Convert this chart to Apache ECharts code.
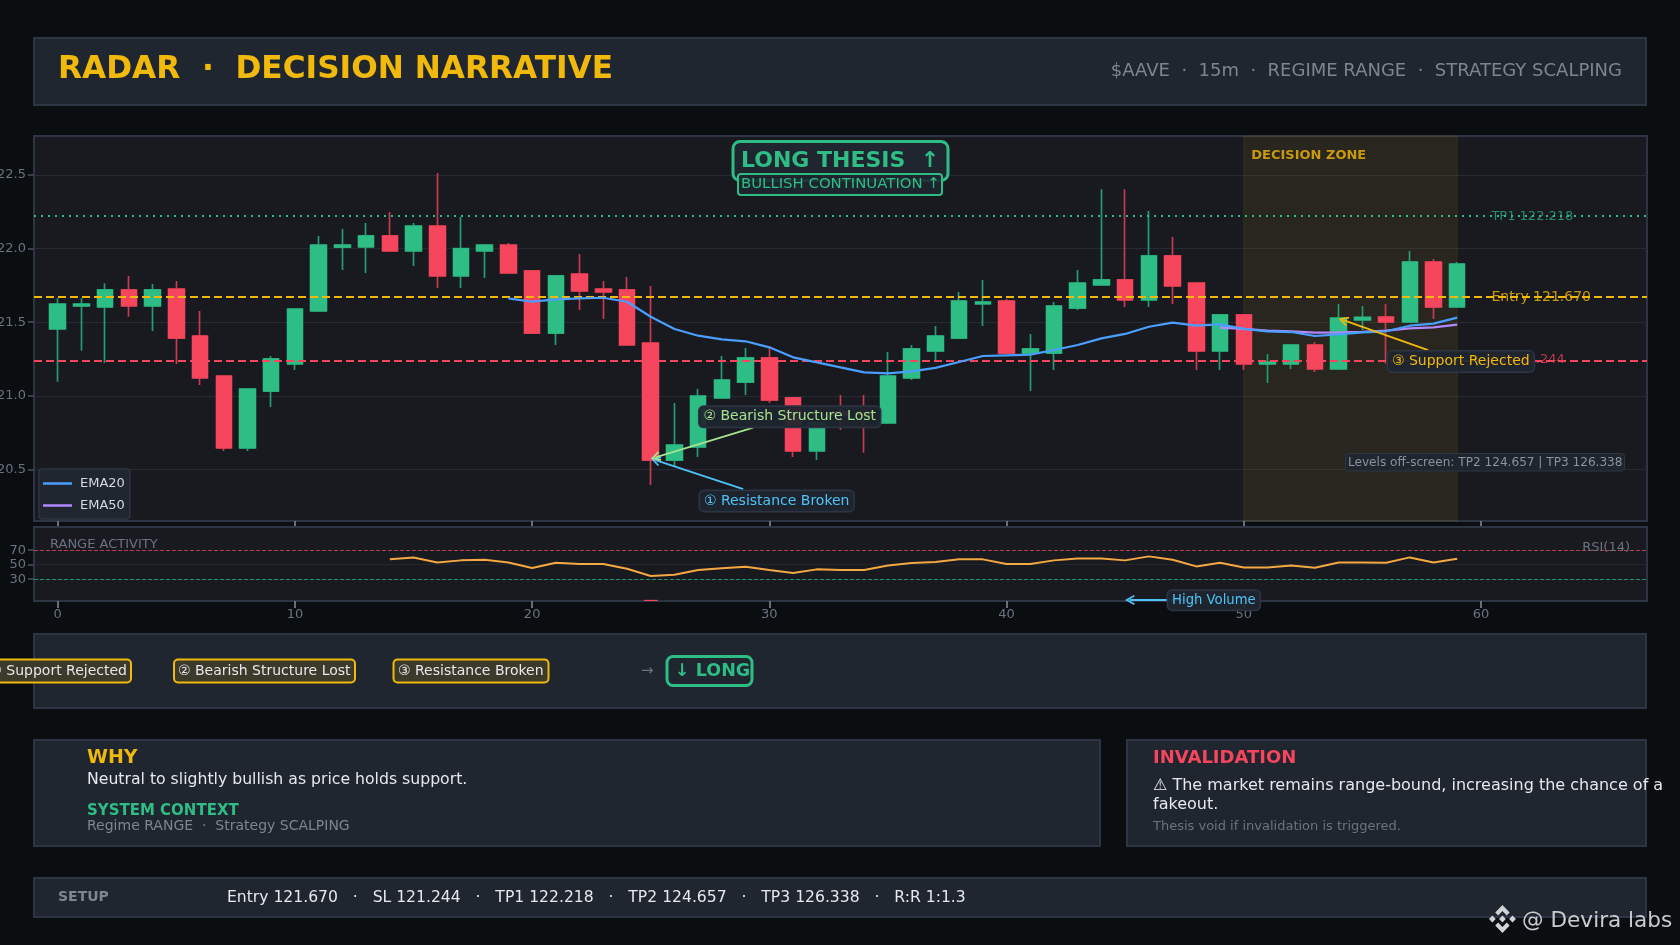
<!DOCTYPE html>
<html><head><meta charset="utf-8">
<style>html,body{margin:0;padding:0;background:#0b0e11;overflow:hidden}#c{width:1680px;height:945px}</style>
<script src="https://cdn.jsdelivr.net/npm/echarts@6/dist/echarts.min.js"></script>
</head><body><div id="c"></div>
<script>
const opens  = [121.454,121.610,121.603,121.719,121.610,121.725,121.406,121.134,120.645,121.032,121.216,121.576,122.010,122.011,122.086,121.984,122.153,121.814,121.984,122.024,121.848,121.426,121.827,121.725,121.719,121.358,120.563,120.652,120.985,121.093,121.257,120.985,120.625,120.890,120.890,120.815,121.121,121.304,121.392,121.625,121.644,121.290,121.290,121.596,121.753,121.787,121.651,121.950,121.766,121.304,121.549,121.216,121.216,121.345,121.182,121.515,121.535,121.501,121.909,121.603];
const closes = [121.623,121.623,121.719,121.610,121.719,121.392,121.121,120.645,121.046,121.250,121.589,122.024,122.024,122.086,121.984,122.153,121.814,122.000,122.024,121.834,121.426,121.814,121.712,121.705,121.345,120.563,120.665,120.998,121.107,121.257,120.971,120.625,120.815,120.870,120.870,121.134,121.318,121.406,121.644,121.637,121.290,121.318,121.610,121.766,121.787,121.651,121.950,121.746,121.304,121.549,121.216,121.229,121.345,121.182,121.528,121.533,121.501,121.909,121.603,121.895];
const lows   = [121.096,121.306,121.225,121.537,121.440,121.216,121.073,120.625,120.625,120.924,121.175,121.576,121.854,121.834,121.984,121.882,121.732,121.732,121.800,121.834,121.426,121.345,121.583,121.522,121.345,120.394,120.523,120.584,120.985,121.005,120.951,120.584,120.563,120.767,120.613,120.815,121.107,121.243,121.386,121.474,121.290,121.032,121.175,121.583,121.753,121.603,121.603,121.623,121.175,121.175,121.175,121.087,121.182,121.161,121.182,121.447,121.220,121.501,121.522,121.603];
const highs  = [121.662,121.662,121.764,121.814,121.759,121.780,121.576,121.134,121.046,121.270,121.589,122.086,122.133,122.174,122.249,122.174,122.514,122.215,122.024,122.038,121.855,121.814,121.963,121.780,121.807,121.746,120.951,121.046,121.270,121.324,121.338,120.985,120.815,121.005,121.005,121.297,121.345,121.474,121.705,121.787,121.657,121.420,121.637,121.854,122.403,122.403,122.255,122.079,121.766,121.549,121.549,121.284,121.345,121.365,121.623,121.610,121.623,121.984,121.929,121.909];
const ema20  = [null,null,null,null,null,null,null,null,null,null,null,null,null,null,null,null,null,null,null,121.662,121.639,121.655,121.662,121.666,121.639,121.537,121.454,121.408,121.383,121.370,121.329,121.261,121.227,121.193,121.159,121.152,121.166,121.189,121.229,121.270,121.275,121.279,121.311,121.345,121.390,121.420,121.469,121.497,121.476,121.485,121.454,121.438,121.433,121.406,121.417,121.431,121.438,121.476,121.490,121.531];
const ema50  = [121.463,121.454,121.442,121.438,121.429,121.431,121.435,121.442,121.458,121.465,121.483];
const ema50Start = 49;
const rsi    = [57.4,60.1,53.2,56,56.9,53.2,45.4,52.8,50.9,50.9,44.5,34.4,36.2,42.6,45,47.2,42.6,38.5,43.6,42.6,42.6,49,52.3,53.7,57.4,57.4,50.9,50.9,56,58.7,58.7,56,61.5,56.9,47.7,52.8,46.3,46.3,49,45.9,53.2,53.2,52.8,60.1,53.2,58.3];
const rsiStart = 14;
const volumeSpike = [[25,1.6]];
const levelNames = ['TP1 122.218','Entry 121.670','SL 121.244'];
const levelValues = [122.218,121.670,121.244];
const priceTicks = [120.5,121,121.5,122,122.5];
const rsiTicks = [30,50,70];
const xTicks = [0,10,20,30,40,50,60];
const zoneRange = [50,59];

const F='"DejaVu Sans"', UP='#2ebd85', DN='#f6465d', GOLD='#f0b90b', CYAN='#4fc3f7', LIME='#a5e38f';
const PANEL='#1f262f', EDGE='#2d3443', GREY='#7d8590';
const idx = opens.map((_,i)=>i);
const wicks = idx.map(i=>[i,opens[i],closes[i],lows[i],highs[i]]);
const bodies = idx.map(i=>[i,opens[i],closes[i],Math.min(opens[i],closes[i]),Math.max(opens[i],closes[i])]);

const rect=(x,y,w,h,fill,stroke,lw,r,z)=>({type:'rect',silent:true,z:z||0,shape:{x,y,width:w,height:h,r:r||0},style:{fill,stroke,lineWidth:lw||0}});
const txt=(t,x,y,fill,font,align,z)=>({type:'text',silent:true,z:z||1,style:{text:t,x,y,fill,font:font+' '+F,align:align||'left',verticalAlign:'middle',textAlign:align||'left',textVerticalAlign:'middle'}});
const logoFill='#d0d3d8';
const poly=(pts)=>({type:'polygon',silent:true,z:60,shape:{points:pts.map(p=>[1489+p[0]*0.96,905+p[1]])},style:{fill:logoFill}});
const graphics=[
 rect(34,38,1612,67,PANEL,EDGE,2),
 txt('RADAR  ·  DECISION NARRATIVE',58,69.5,GOLD,'bold 31.2px'),
 txt('$AAVE  ·  15m  ·  REGIME RANGE  ·  STRATEGY SCALPING',1622,71,GREY,'18px','right'),
 rect(733,141.5,215,39,PANEL,UP,3,7,100),
 txt('LONG THESIS  ↑',741,161,UP,'bold 22px','left',101),
 rect(738,174,204,21,'rgba(31,38,47,0.9)',UP,2,3,102),
 txt('BULLISH CONTINUATION ↑',741,184,UP,'14.9px','left',103),
 rect(1345.5,453.5,279,17.5,'rgba(31,38,47,0.92)',EDGE,1,3,100),
 txt('Levels off-screen: TP2 124.657 | TP3 126.338',1348,462.5,'#8b92a0','12.1px','left',101),
 txt('RANGE ACTIVITY',50,544.5,'#6b7280','13px','left',50),
 txt('RSI(14)',1630,547.5,'#6b7280','13px','right',50),
 rect(34,634,1612,74,PANEL,EDGE,2),
 rect(-25,659.5,156,23,'#3c3a2a',GOLD,2,4,1),
 txt('① Support Rejected',127,671,'#e6e8ec','14px','right',2),
 rect(174,659.5,181,23,'#3c3a2a',GOLD,2,4,1),
 txt('② Bearish Structure Lost',178,671,'#e6e8ec','14px','left',2),
 rect(393.5,659.5,155,23,'#3c3a2a',GOLD,2,4,1),
 txt('③ Resistance Broken',398,671,'#e6e8ec','14px','left',2),
 txt('→',641,671,'#6b7280','15px','left',2),
 rect(667,656.5,85,29,PANEL,UP,3,6,1),
 txt('↓ LONG',675,671,UP,'bold 17.5px','left',2),
 rect(34,740,1066,106,PANEL,EDGE,2),
 txt('WHY',87,758,GOLD,'bold 19px'),
 txt('Neutral to slightly bullish as price holds support.',87,779.5,'#e6e8ec','15.7px'),
 txt('SYSTEM CONTEXT',87,811,UP,'bold 15px'),
 txt('Regime RANGE  ·  Strategy SCALPING',87,826.5,'#7d8590','14px'),
 rect(1127,740,519,106,PANEL,EDGE,2),
 txt('INVALIDATION',1153,758,DN,'bold 18px'),
 txt('⚠ The market remains range-bound, increasing the chance of a',1153,785.5,'#e6e8ec','16px','left',60),
 txt('fakeout.',1153,805,'#e6e8ec','16px'),
 txt('Thesis void if invalidation is triggered.',1153,827,'#6b7280','13px'),
 rect(34,878,1612,39,PANEL,EDGE,2),
 txt('SETUP',58,897.5,GREY,'bold 14px'),
 txt('Entry 121.670   ·   SL 121.244   ·   TP1 122.218   ·   TP2 124.657   ·   TP3 126.338   ·   R:R 1:1.3',227,897.5,'#e6e8ec','15.6px'),
 poly([[14,0],[21.5,7.5],[18.5,10.5],[14,6],[9.5,10.5],[6.5,7.5]]),
 poly([[14,28],[21.5,20.5],[18.5,17.5],[14,22],[9.5,17.5],[6.5,20.5]]),
 poly([[14,10.5],[17.5,14],[14,17.5],[10.5,14]]),
 poly([[3.5,10.5],[7,14],[3.5,17.5],[0,14]]),
 poly([[24.5,10.5],[28,14],[24.5,17.5],[21,14]]),
 txt('@ Devira labs',1522,921,'#c8ccd2','21.6px','left',60)
];

const chev='path://M5 0L10 9L8.6 10L5 3.6L1.4 10L0 9Z';
const arrow=(from,to,color)=>[{coord:from,symbol:'none',lineStyle:{color,width:1.8,type:'solid'}},{coord:to,symbol:chev,symbolSize:[10,10]}];
const tag=(t,coord,color,size,pad)=>({coord,symbol:'circle',symbolSize:1,itemStyle:{color:'transparent'},
  label:{show:true,position:'inside',formatter:t,color,fontFamily:F,fontSize:size,backgroundColor:'rgba(31,38,47,0.93)',borderColor:EDGE,borderWidth:1.5,borderRadius:4,padding:pad}});
const plain=(t,coord,color,size)=>({coord,symbol:'circle',symbolSize:1,itemStyle:{color:'transparent'},
  label:{show:true,position:'right',distance:0,formatter:t,color,fontFamily:F,fontSize:size}});
const levelColors=['rgba(46,189,133,0.7)','rgba(240,185,11,0.8)','rgba(246,70,93,0.75)'];
const levelFont=[13,14,13];

const tickStyle={show:true,length:5,lineStyle:{color:'#848e9c',width:1.5}};
const option={
 animation:false,backgroundColor:'#0b0e11',
 textStyle:{fontFamily:F},
 graphic:graphics,
 legend:{show:true,data:['EMA20','EMA50'],icon:'rect',orient:'vertical',left:39,top:469,padding:[8,5,7,4],itemWidth:29,itemHeight:2.5,itemGap:9,
   backgroundColor:PANEL,borderColor:EDGE,borderWidth:1.5,borderRadius:3,textStyle:{color:'#d5d9e0',fontSize:13,fontFamily:F,padding:[0,0,0,3]}},
 grid:[
  {left:34,right:33,top:136,height:385,show:true,backgroundColor:'#181a20',borderColor:EDGE,borderWidth:2,outerBoundsMode:'none'},
  {left:34,right:33,top:527,height:74,show:true,backgroundColor:'#181a20',borderColor:EDGE,borderWidth:2,outerBoundsMode:'none'}
 ],
 xAxis:[
  {type:'value',gridIndex:0,min:-1,max:67,axisLine:{show:false,onZero:false},splitLine:{show:false},axisTick:Object.assign({customValues:xTicks},tickStyle),axisLabel:{show:false,customValues:xTicks}},
  {type:'value',gridIndex:1,min:-1,max:67,axisLine:{show:false,onZero:false},splitLine:{show:false},axisTick:Object.assign({customValues:xTicks},tickStyle,{length:7}),axisLabel:{show:true,customValues:xTicks,color:'#6b7280',fontSize:13,margin:7,fontFamily:F}}
 ],
 yAxis:[
  {type:'value',gridIndex:0,min:120.149,max:122.765,axisLine:{show:false,onZero:false},axisTick:{show:true,length:6,customValues:priceTicks,lineStyle:{color:'#4a5060',width:1.5}},
   axisLabel:{customValues:priceTicks,color:'#6b7280',fontSize:13,margin:8,fontFamily:F,formatter:v=>v.toFixed(1)},splitLine:{show:true,lineStyle:{color:'#262a32',width:1}}},
  {type:'value',gridIndex:1,min:0,max:102,axisLine:{show:false,onZero:false},axisTick:{show:true,length:6,customValues:rsiTicks,lineStyle:{color:'#4a5060',width:1.5}},
   axisLabel:{customValues:rsiTicks,color:'#6b7280',fontSize:13,margin:8,fontFamily:F},splitLine:{show:true,lineStyle:{color:'#23262d',width:1}}}
 ],
 series:[
  {type:'candlestick',name:'Wicks',xAxisIndex:0,yAxisIndex:0,z:2,barWidth:16,data:wicks,encode:{x:0,y:[1,2,3,4]},
   itemStyle:{color:UP,color0:DN,borderColor:'#279c72',borderColor0:'#c93a50',borderWidth:1.7},
   markArea:{silent:true,z:1,itemStyle:{color:'rgba(240,185,11,0.075)',borderColor:'rgba(240,185,11,0.1)',borderWidth:1},
     label:{show:true,position:[8,14],formatter:'DECISION ZONE',color:'#c99a0e',fontWeight:'bold',fontFamily:F,fontSize:13},
     data:[[{xAxis:zoneRange[0]},{xAxis:zoneRange[1]}]]}},
  {type:'candlestick',name:'Bodies',xAxisIndex:0,yAxisIndex:0,z:3,barWidth:16,data:bodies,encode:{x:0,y:[1,2,3,4]},
   itemStyle:{color:UP,color0:DN,borderColor:UP,borderColor0:DN,borderWidth:1}},
  {type:'line',name:'EMA20',xAxisIndex:0,yAxisIndex:0,z:6,symbol:'none',showSymbol:false,lineStyle:{color:'#4a9eff',width:2.2},itemStyle:{color:'#4a9eff'},
   data:ema20.map((v,i)=>[i,v]),
   markLine:{silent:true,z:4,symbol:'none',label:{show:false},data:[
     {yAxis:levelValues[0],lineStyle:{color:UP,width:2,type:[2,5]}},
     {yAxis:levelValues[1],lineStyle:{color:GOLD,width:2,type:[8,4]}},
     {yAxis:levelValues[2],lineStyle:{color:DN,width:2,type:[8,4]}}]},
   markPoint:{silent:true,z:3,data:levelNames.map((n,i)=>plain(n,[60.42,levelValues[i]],levelColors[i],levelFont[i]))}},
  {type:'line',name:'EMA50',xAxisIndex:0,yAxisIndex:0,z:5,symbol:'none',showSymbol:false,lineStyle:{color:'#b388ff',width:2.2},itemStyle:{color:'#b388ff'},
   data:ema50.map((v,i)=>[ema50Start+i,v]),
   markLine:{silent:true,z:8,symbol:'none',label:{show:false},data:[
     arrow([28.9,120.366],[25.2,120.563],CYAN),
     arrow([29.32,120.783],[25.2,120.582],LIME),
     arrow([57.77,121.31],[54.2,121.514],GOLD)]},
   markPoint:{silent:true,z:9,data:[
     tag('① Resistance Broken',[30.31,120.285],CYAN,14,[3,4,3,4]),
     tag('② Bearish Structure Lost',[30.86,120.857],LIME,14,[3,4,3,4]),
     tag('③ Support Rejected',[59.15,121.232],GOLD,14,[3,4,3,4])]}},
  {type:'line',name:'RSI',xAxisIndex:1,yAxisIndex:1,z:4,symbol:'none',showSymbol:false,lineStyle:{color:'#f5a742',width:2},
   data:rsi.map((v,i)=>[rsiStart+i,v]),
   markLine:{silent:true,z:3,symbol:'none',label:{show:false},data:[
     {yAxis:70,lineStyle:{color:'rgba(246,70,93,0.7)',width:1.2,type:[4,2]}},
     {yAxis:30,lineStyle:{color:'rgba(46,189,133,0.7)',width:1.2,type:[4,2]}}]}},
  {type:'bar',name:'Volume',xAxisIndex:1,yAxisIndex:1,z:3,barWidth:14,itemStyle:{color:DN},data:volumeSpike,
   markLine:{silent:true,z:12,symbol:'none',label:{show:false},data:[arrow([48.1,1.5],[45.2,1.5],CYAN)]},
   markPoint:{silent:true,z:13,data:[tag('High Volume',[48.74,1.2],CYAN,13.2,[3,4,3,4])]}}
 ]
};
const chart=echarts.init(document.getElementById('c'),null,{renderer:'canvas',width:1680,height:945});
chart.setOption(option);
</script></body></html>
